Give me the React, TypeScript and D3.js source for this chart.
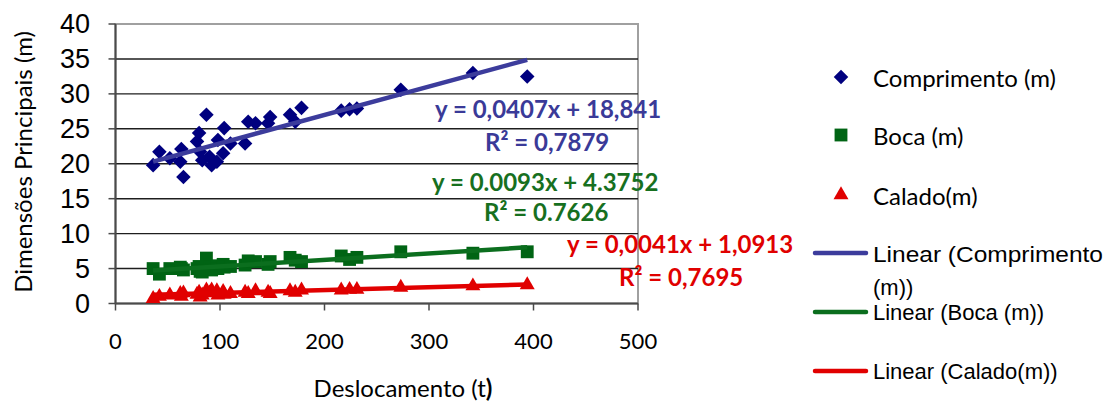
import React from "react";
import * as d3 from "d3";

// Displacement (t) of each vessel and its main dimensions (m)
const deslocamento = [36, 42, 52, 62, 63, 65, 78, 80, 81, 83, 87, 90, 92, 97, 98, 103, 104, 110, 124, 127, 134, 146, 148, 167, 172, 178, 216, 224, 231, 273, 342, 394];
const comprimento = [19.8, 21.7, 20.8, 20.3, 22.1, 18.1, 23.2, 24.4, 21.7, 20.5, 27.0, 21.0, 19.8, 20.3, 23.4, 21.5, 25.1, 22.9, 22.9, 26.0, 25.8, 25.8, 26.7, 27.0, 26.0, 28.0, 27.6, 27.8, 27.9, 30.6, 33.0, 32.5];
const boca = [5.0, 4.2, 5.0, 5.2, 5.0, 4.8, 5.0, 5.3, 4.6, 4.5, 6.5, 5.2, 4.8, 5.4, 5.0, 5.6, 5.2, 5.3, 5.5, 6.1, 6.0, 5.6, 6.0, 6.6, 6.2, 6.0, 6.8, 6.3, 6.6, 7.4, 7.2, 7.4];
const calado = [0.7, 1.0, 1.2, 1.4, 1.0, 1.5, 1.3, 1.6, 0.9, 1.2, 1.9, 1.5, 1.9, 1.8, 1.2, 1.7, 1.3, 1.4, 1.6, 1.4, 1.8, 1.6, 1.4, 1.8, 1.6, 1.9, 1.9, 2.0, 2.0, 2.3, 2.5, 2.65];

// Linear trend coefficients and their printed labels
const slopes = [0.0407, 0.0093, 0.0041];
const intercepts = [18.841, 4.3752, 1.0913];
const eqLabels = ["y = 0,0407x + 18,841", "y = 0.0093x + 4.3752", "y = 0,0041x + 1,0913"];
const r2Labels = ["R\u00B2 = 0,7879", "R\u00B2 = 0.7626", "R\u00B2 = 0,7695"];

const seriesNames = ["Comprimento (m)", "Boca (m)", "Calado(m)"];
const xTicks = [0, 100, 200, 300, 400, 500];
const yTicks = [0, 5, 10, 15, 20, 25, 30, 35, 40];

const W = 1105;
const H = 403;
const markerColors = ["#00007f", "#006414", "#e00000"];
const trendColors = ["#3c3c9c", "#0b6e1e", "#e10000"];
const labelColors = ["#3a3a98", "#17701f", "#e00000"];
const calibri = "Lato, 'Open Sans', sans-serif";
const arial = "'Liberation Sans', Arial, sans-serif";

export default function App() {
  const x = d3.scaleLinear().domain([0, 500]).range([115.5, 638]);
  const y = d3.scaleLinear().domain([0, 40]).range([303.5, 24]);
  const values = [comprimento, boca, calado];
  const xExtent = d3.extent(deslocamento) as [number, number];

  const diamond = d3.symbol().type(d3.symbolDiamond2).size(135)();
  const square = d3.symbol().type(d3.symbolSquare2).size(210)();
  const triangle = d3.symbol().type(d3.symbolTriangle2).size(160)();
  const shapes = [diamond, square, triangle];

  const trendPath = (k: number) =>
    d3
      .line<number>()
      .x((d) => x(d))
      .y((d) => y(slopes[k] * d + intercepts[k]))(xExtent);

  const eqPos = [
    { x: 435, y: 118, rx: 485, ry: 151 },
    { x: 432, y: 191, rx: 484, ry: 221 },
    { x: 567, y: 253, rx: 619, ry: 286 },
  ];

  return (
    <svg
      width={W}
      height={H}
      style={{ position: "absolute", left: 0, top: 0, background: "#fff" }}
    >
      <rect x={0} y={0} width={W} height={H} fill="#fff" />
      {/* plot frame */}
      <rect x={x(0)} y={y(40)} width={x(500) - x(0)} height={y(0) - y(40)} fill="none" stroke="#a0a0a0" strokeWidth={2} />
      {/* horizontal gridlines */}
      {yTicks.filter((t) => t > 0 && t < 40).map((t) => (
        <line key={t} x1={x(0)} x2={x(500)} y1={y(t)} y2={y(t)} stroke="#1e1e1e" strokeWidth={1.4} />
      ))}
      {/* axes */}
      <line x1={x(0)} x2={x(0)} y1={y(40)} y2={y(0)} stroke="#4a4a4a" strokeWidth={2} />
      <line x1={x(0)} x2={x(500)} y1={y(0)} y2={y(0)} stroke="#4a4a4a" strokeWidth={2} />
      {yTicks.map((t) => (
        <g key={t}>
          <line x1={x(0) - 7} x2={x(0)} y1={y(t)} y2={y(t)} stroke="#4a4a4a" strokeWidth={1.5} />
          <text x={90} y={y(t)} textAnchor="end" dominantBaseline="central" fontFamily={arial} fontSize={27} fill="#000">
            {t}
          </text>
        </g>
      ))}
      {xTicks.map((t) => (
        <g key={t}>
          <line x1={x(t)} x2={x(t)} y1={y(0)} y2={y(0) + 7} stroke="#4a4a4a" strokeWidth={1.5} />
          <text x={x(t)} y={340} textAnchor="middle" dominantBaseline="central" fontFamily={calibri} fontSize={22} fill="#000">
            {t}
          </text>
        </g>
      ))}
      {/* axis titles */}
      <text x={403} y={387} textAnchor="middle" dominantBaseline="central" fontFamily={calibri} fontSize={24} fill="#000">
        Deslocamento (t<tspan fontWeight="bold">)</tspan>
      </text>
      <text
        transform={`translate(22,162) rotate(-90)`}
        textAnchor="middle"
        dominantBaseline="central"
        fontFamily={calibri}
        fontSize={24}
        fill="#000"
      >
        Dimensões Principais (m)
      </text>

      {/* markers */}
      {values.map((vals, k) => (
        <g key={k} fill={markerColors[k]}>
          {deslocamento.map((d, i) => (
            <path key={i} d={shapes[k] as string} transform={`translate(${x(d)},${y(vals[i])})`} />
          ))}
        </g>
      ))}
      {/* trend lines */}
      {[0, 1, 2].map((k) => (
        <path key={k} d={trendPath(k) as string} fill="none" stroke={trendColors[k]} strokeWidth={4.5} />
      ))}
      {/* equations */}
      {eqPos.map((p, k) => (
        <g key={k} fontFamily={calibri} fontWeight="bold" fontSize={24} fill={labelColors[k]}>
          <text x={p.x} y={p.y}>{eqLabels[k]}</text>
          <text x={p.rx} y={p.ry}>{r2Labels[k]}</text>
        </g>
      ))}

      {/* legend */}
      {seriesNames.map((name, k) => {
        const ly = [77, 135, 195][k];
        return (
          <g key={name}>
            <path d={shapes[k] as string} transform={`translate(841,${ly})`} fill={markerColors[k]} />
            <text x={873} y={ly} dominantBaseline="central" fontFamily={calibri} fontSize={24} fill="#000">
              {name}
            </text>
          </g>
        );
      })}
      {[253, 312, 371].map((ly, k) => (
        <line key={k} x1={815} x2={866} y1={ly} y2={ly} stroke={trendColors[k]} strokeWidth={4.5} strokeLinecap="round" />
      ))}
      <text x={873} y={254} dominantBaseline="central" fontFamily={arial} fontSize={22} fill="#000" textLength={230} lengthAdjust="spacingAndGlyphs">
        Linear ({seriesNames[0].replace(" (m)", "")}
      </text>
      <text x={873} y={287} dominantBaseline="central" fontFamily={arial} fontSize={22} fill="#000">
        (m))
      </text>
      <text x={873} y={312} dominantBaseline="central" fontFamily={arial} fontSize={22} fill="#000">
        Linear ({seriesNames[1]})
      </text>
      <text x={873} y={371} dominantBaseline="central" fontFamily={arial} fontSize={22} fill="#000">
        Linear ({seriesNames[2]})
      </text>
    </svg>
  );
}
